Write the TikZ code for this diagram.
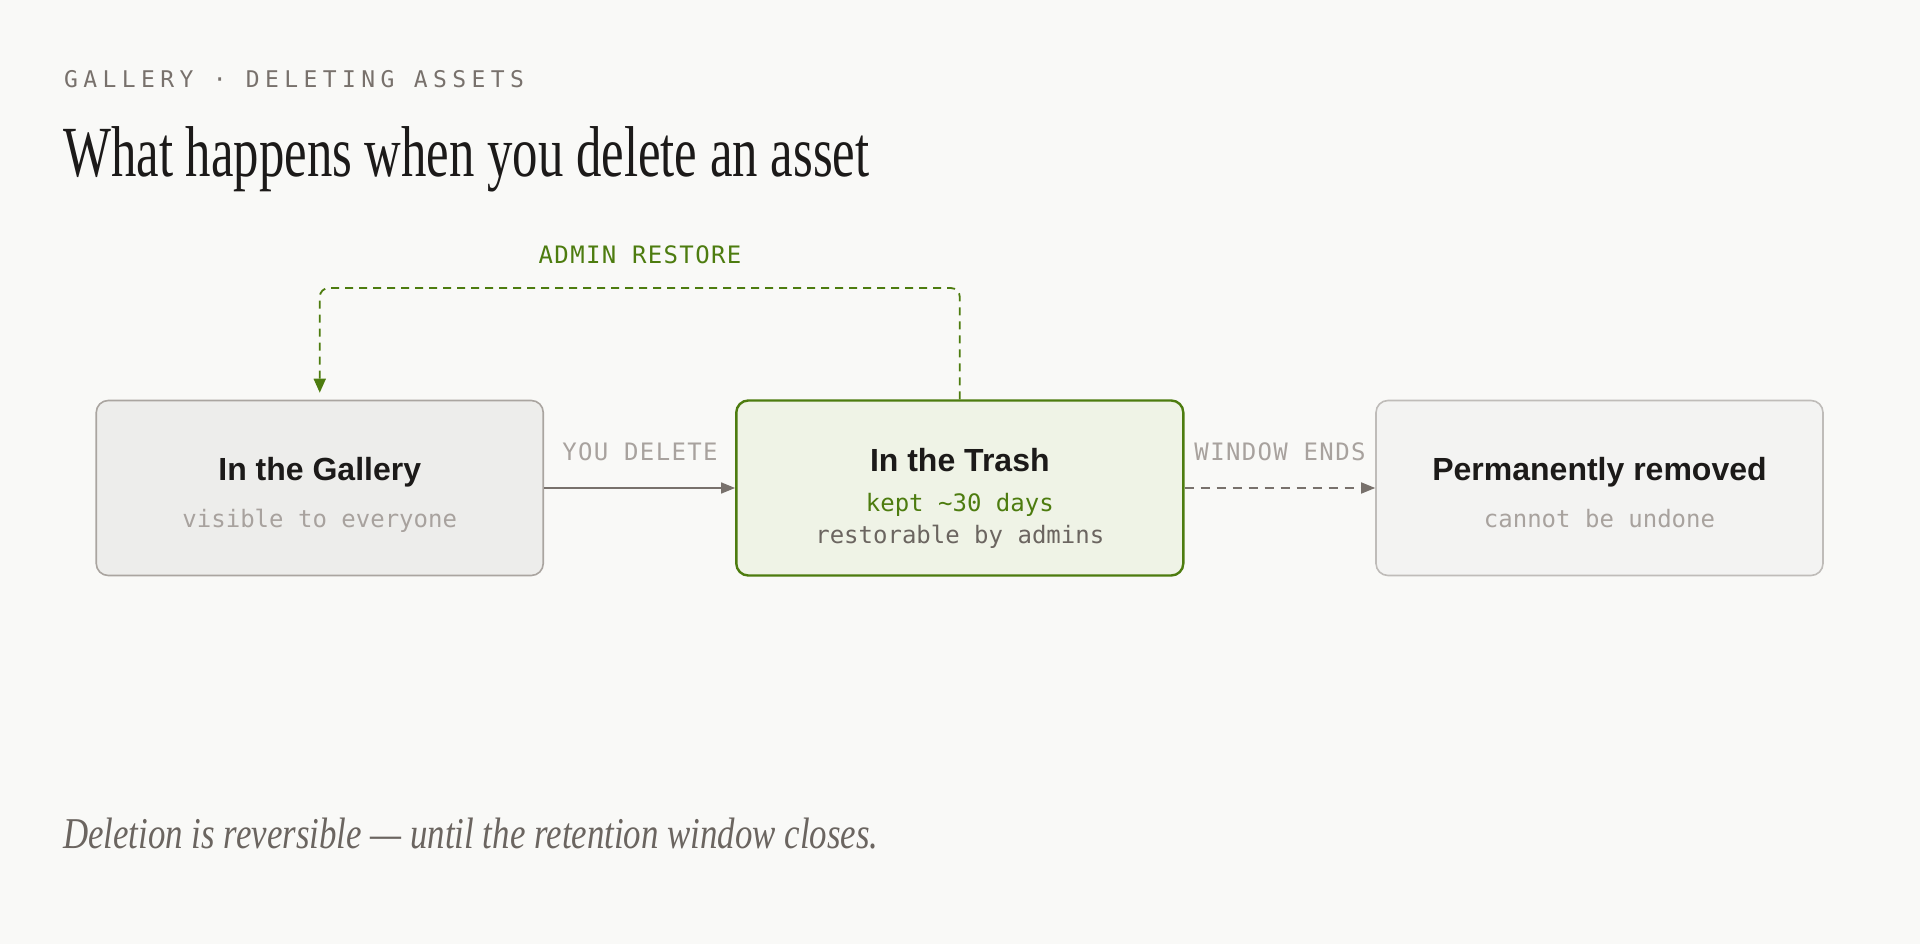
\documentclass[tikz,border=0pt]{standalone}
\usepackage{fontspec}
\setmainfont{Liberation Serif}
\newfontfamily\titlefont[FakeStretch=0.705]{Liberation Serif}
\newfontfamily\footfont[FakeStretch=0.792]{Liberation Serif}
\newfontfamily\boxfont{Liberation Sans}
\newfontfamily\monofont{DejaVu Sans Mono}
\newfontfamily\labelfont[LetterSpace=5.6]{DejaVu Sans Mono}
\newfontfamily\eyefont[LetterSpace=23.5]{DejaVu Sans Mono}
\usetikzlibrary{arrows.meta}
\definecolor{bg}{HTML}{F9F9F7}
\definecolor{ink}{HTML}{1C1A19}
\definecolor{stone}{HTML}{78716C}
\definecolor{stonelight}{HTML}{A8A29E}
\definecolor{stonedark}{HTML}{6B6560}
\definecolor{lime}{HTML}{4D7C0F}
\definecolor{limefill}{HTML}{EFF3E6}
\definecolor{galfill}{HTML}{EDEDEB}
\definecolor{galline}{HTML}{AAA5A0}
\definecolor{permfill}{HTML}{F3F3F2}
\definecolor{permline}{HTML}{BFBCB9}
\begin{document}
\begin{tikzpicture}[x=1pt,y=-1pt,
  statebox/.style={rectangle, rounded corners=12pt, minimum width=447pt,
    minimum height=175pt, inner sep=0pt, line width=1.6pt},
  txt/.style={inner sep=0pt, anchor=base},
  boxtitle/.style={txt, text=ink, font=\boxfont\bfseries\fontsize{32}{36}\selectfont},
  boxsub/.style={txt, font=\monofont\fontsize{24}{28}\selectfont},
  edgelabel/.style={txt, font=\labelfont\fontsize{24}{28}\selectfont},
  flow/.style={draw=stone, line width=1.6pt, -{Triangle[length=14pt,width=11pt]}},
  flowdash/.style={flow, dash pattern=on 9pt off 7pt},
  restoreloop/.style={draw=lime, line width=1.8pt, dash pattern=on 8pt off 6pt,
    rounded corners=9pt, -{Triangle[length=14pt,width=12pt]}, shorten >=7pt}
]
\useasboundingbox[fill=bg] (0,0) rectangle (1920,944);

% header
\node[txt, anchor=base west, text=stone, font=\eyefont\fontsize{23}{26}\selectfont]
  (eyebrow) at (64,88) {GALLERY · DELETING ASSETS};
\node[txt, anchor=base west, text=ink, font=\titlefont\fontsize{72}{80}\selectfont]
  (title) at (63,177) {What happens when you delete an asset};

% boxes
\node[statebox, draw=galline, fill=galfill] (gal) at (319.75,488) {};
\node[statebox, draw=lime, fill=limefill, line width=2.4pt] (trash) at (959.8,488) {};
\node[statebox, draw=permline, fill=permfill] (perm) at (1599.5,488) {};

% box texts
\node[boxtitle] (galT) at (319.75,480) {In the Gallery};
\node[boxsub, text=stonelight] (galS) at (319.75,527.7) {visible to everyone};
\node[boxtitle] (trashT) at (959.8,471.7) {In the Trash};
\node[boxsub, text=lime] (trashS) at (959.8,511) {kept \char`\~30 days};
\node[boxsub, text=stonedark] (trashR) at (959.8,543) {restorable by admins};
\node[boxtitle] (permT) at (1599.5,480) {Permanently removed};
\node[boxsub, text=stonelight] (permS) at (1599.5,527.7) {cannot be undone};

% connectors
\draw[flow] (gal.east) -- (trash.west);
\node[edgelabel, text=stonelight] (delL) at (640,460) {YOU DELETE};
\draw[flowdash] (trash.east) -- (perm.west);
\node[edgelabel, text=stonelight] (winL) at (1280,460) {WINDOW ENDS};

\coordinate (looptop) at (640,288);
\draw[restoreloop] (trash.north) |- (looptop) -| (gal.north);
\node[edgelabel, text=lime] (admL) at (640,264) {ADMIN RESTORE};

% footer
\node[txt, anchor=base west, text=stonedark, font=\footfont\itshape\fontsize{44}{50}\selectfont]
  (foot) at (63,848) {Deletion is reversible — until the retention window closes.};
\end{tikzpicture}
\end{document}
